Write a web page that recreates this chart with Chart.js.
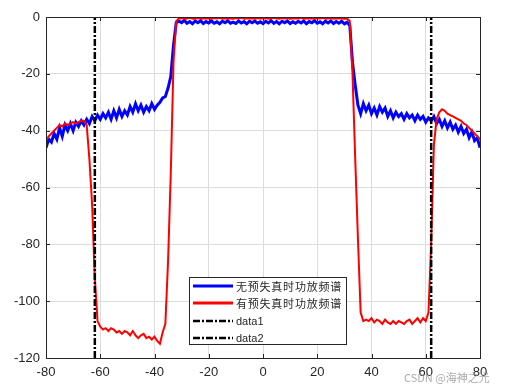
<!DOCTYPE html>
<html>
<head>
<meta charset="utf-8">
<script src="https://cdn.jsdelivr.net/npm/chart.js@4"></script>
<style>
  body { margin: 0; background: #fff; }
  #wrap { width: 514px; height: 390px; }
</style>
</head>
<body>
<div id="wrap"><canvas id="myChart" width="514" height="390"></canvas></div>
<script>
// frequency grid shared by both spectra (step 1)
const freq = [];
for (let f = -80; f <= 80; f++) freq.push(f);

// spectrum without predistortion (blue)
const noDpd = [
  -46, -43, -44, -41, -43, -39, -42, -38, -40, -37.5,
  -40, -37, -38.5, -36.5, -38, -36, -37.5, -35, -36.5, -34.5,
  -36, -34, -35.5, -33.5, -36, -33, -35.5, -32.5, -35, -33,
  -34.5, -31.5, -33.5, -30.5, -33, -31, -33.5, -31.5, -33, -30.5,
  -32.5, -31, -30, -28.5, -28, -25, -21, -10, -2, -1.5,
  -2, -1.2, -2.2, -1.6, -2.4, -1.4, -2, -1.3, -2.3, -1.6,
  -2.1, -1.4, -2.2, -1.7, -2.4, -1.5, -2, -1.3, -2.2, -1.8,
  -2.3, -1.4, -2.1, -1.6, -2.4, -1.5, -2, -1.4, -2.2, -1.7,
  -2.3, -1.5, -2.1, -1.3, -2.2, -1.6, -2.4, -1.5, -2, -1.4,
  -2.3, -1.7, -2.2, -1.5, -2.1, -1.4, -2.4, -1.6, -2, -1.3,
  -2.2, -1.7, -2.4, -1.5, -2.1, -1.4, -2.3, -1.6, -2.2, -1.5,
  -2.4, -1.8, -3, -16, -24, -31, -34, -30.5, -33, -31,
  -34, -32, -34.5, -31.5, -33.5, -32, -35, -33, -35.5, -33.5,
  -35, -34, -36, -34, -35.5, -34.5, -36.5, -34.5, -36, -35,
  -37, -35.5, -36.5, -35, -37.5, -36, -38.5, -36.5, -39, -37,
  -39.5, -38, -40.5, -38.5, -41, -39.5, -42.5, -40.5, -43.5, -42.5,
  -46
];

// spectrum with predistortion (red)
const withDpd = [
  -43.5, -42, -41, -40, -39, -38, -38.5, -37.5, -38, -37.5,
  -37, -37.5, -37, -36.5, -36.5, -38, -50, -66, -92, -107,
  -109, -110, -109.5, -110.5, -109.5, -110, -111, -110.5, -111.5, -110.5,
  -111, -112, -110.5, -112, -113, -112, -111.5, -113, -112.5, -113.5,
  -112.5, -114, -115, -111, -108, -86, -55, -16, -1.5, -0.5,
  -0.4, -0.6, -0.5, -0.3, -0.6, -0.5, -0.4, -0.6, -0.5, -0.4,
  -0.5, -0.6, -0.4, -0.5, -0.3, -0.6, -0.5, -0.4, -0.5, -0.6,
  -0.4, -0.5, -0.3, -0.6, -0.5, -0.4, -0.5, -0.6, -0.4, -0.5,
  -0.5, -0.4, -0.6, -0.5, -0.3, -0.5, -0.6, -0.4, -0.5, -0.4,
  -0.6, -0.5, -0.4, -0.5, -0.3, -0.6, -0.5, -0.4, -0.5, -0.6,
  -0.4, -0.5, -0.3, -0.6, -0.5, -0.4, -0.6, -0.5, -0.4, -0.5,
  -0.6, -0.5, -1.5, -20, -50, -78, -104, -107, -106.5, -107,
  -106, -107.5, -106.5, -107, -108, -106.5, -107.5, -108, -107, -108,
  -107, -107.5, -108, -107, -106.5, -108, -107, -106, -107.5, -106,
  -107, -104, -80, -45, -36, -33.5, -32.5, -33, -34, -34.5,
  -35, -35.5, -36, -36.5, -37.5, -38, -39, -40, -41, -42,
  -43
];

// vertical markers
const data1X = -62;
const data2X = 62;

const yTicks = [0, -20, -40, -60, -80, -100, -120];
const xTicks = [-80, -60, -40, -20, 0, 20, 40, 60, 80];

const legendLabels = ['无预失真时功放频谱', '有预失真时功放频谱', 'data1', 'data2'];
const legendColors = ['#0000ff', '#ff0000', '#000000', '#000000'];

const axisColor = '#262626';
const dashPattern = [7, 2, 2, 2];

const pts = (ys) => ys.map((y, i) => ({ x: freq[i], y: y }));

// MATLAB-like box, inward ticks, legend and watermark
const extras = {
  id: 'extras',
  afterDraw(chart) {
    const c = chart.ctx;
    const a = chart.chartArea;
    const sx = chart.scales.x, sy = chart.scales.y;
    c.save();
    c.strokeStyle = axisColor;
    c.lineWidth = 1;
    c.strokeRect(Math.round(a.left) + 0.5, Math.round(a.top) + 0.5,
                 Math.round(a.right - a.left), Math.round(a.bottom - a.top));
    c.beginPath();
    xTicks.forEach(v => {
      const px = Math.round(sx.getPixelForValue(v)) + 0.5;
      c.moveTo(px, a.bottom); c.lineTo(px, a.bottom - 4);
      c.moveTo(px, a.top); c.lineTo(px, a.top + 4);
    });
    yTicks.forEach(v => {
      const py = Math.round(sy.getPixelForValue(v)) + 0.5;
      c.moveTo(a.left, py); c.lineTo(a.left + 4, py);
      c.moveTo(a.right, py); c.lineTo(a.right - 4, py);
    });
    c.stroke();

    // legend
    const lx = 189.5, ly = 277.5, lw = 157, lh = 67;
    c.fillStyle = '#fff';
    c.fillRect(lx, ly, lw, lh);
    c.strokeStyle = axisColor;
    c.strokeRect(lx, ly, lw, lh);
    const rows = [286, 303, 321, 338];
    legendLabels.forEach((txt, i) => {
      c.beginPath();
      c.strokeStyle = legendColors[i];
      c.lineWidth = i < 2 ? 3 : 2.5;
      c.setLineDash(i < 2 ? [] : dashPattern);
      c.moveTo(193, rows[i]); c.lineTo(233, rows[i]);
      c.stroke();
      c.setLineDash([]);
      c.fillStyle = axisColor;
      c.textBaseline = 'middle';
      c.letterSpacing = '0px';
      if (i < 2) {
        c.font = '11px "Noto Sans CJK SC"';
        // stretch the CJK label to the width seen in the picture
        const w = c.measureText(txt).width;
        const sp = Math.max(0, (106 - w) / txt.length);
        c.letterSpacing = sp.toFixed(2) + 'px';
      } else {
        c.font = '11px "Liberation Sans"';
      }
      c.fillText(txt, 236, rows[i] + 0.5);
    });
    c.letterSpacing = '0px';

    // watermark
    c.font = '11px "Noto Sans CJK SC"';
    c.fillStyle = 'rgba(150,150,150,0.8)';
    c.textBaseline = 'middle';
    c.fillText('CSDN @海神之光', 404, 378);
    c.restore();
  }
};

const ctx = document.getElementById('myChart');

new Chart(ctx, {
  type: 'line',
  data: {
    datasets: [
      {
        label: legendLabels[0],
        data: pts(noDpd),
        borderColor: '#0000ff',
        borderWidth: 3,
        pointRadius: 0,
        tension: 0,
        order: 3
      },
      {
        label: legendLabels[1],
        data: pts(withDpd),
        borderColor: '#ff0000',
        borderWidth: 2,
        pointRadius: 0,
        tension: 0,
        order: 2
      },
      {
        label: legendLabels[2],
        data: [{ x: data1X, y: -120 }, { x: data1X, y: 0 }],
        borderColor: '#000',
        borderWidth: 2.5,
        borderDash: dashPattern,
        pointRadius: 0,
        order: 1
      },
      {
        label: legendLabels[3],
        data: [{ x: data2X, y: -120 }, { x: data2X, y: 0 }],
        borderColor: '#000',
        borderWidth: 2.5,
        borderDash: dashPattern,
        pointRadius: 0,
        order: 0
      }
    ]
  },
  options: {
    responsive: false,
    animation: false,
    layout: { padding: { top: 17, right: 34, left: 0, bottom: 0 } },
    plugins: {
      legend: { display: false },
      tooltip: { enabled: false }
    },
    scales: {
      x: {
        type: 'linear',
        min: -80,
        max: 80,
        afterFit: (s) => { s.height = 32; },
        afterBuildTicks: (s) => { s.ticks = xTicks.map(v => ({ value: v })); },
        ticks: {
          color: axisColor,
          padding: 7,
          maxRotation: 0,
          font: { family: 'Liberation Sans', size: 13 }
        },
        grid: { color: '#dcdcdc', drawTicks: false },
        border: { color: axisColor }
      },
      y: {
        min: -120,
        max: 0,
        afterFit: (s) => { s.width = 46; },
        afterBuildTicks: (s) => { s.ticks = yTicks.map(v => ({ value: v })); },
        ticks: {
          color: axisColor,
          padding: 6,
          font: { family: 'Liberation Sans', size: 13 }
        },
        grid: { color: '#dcdcdc', drawTicks: false },
        border: { color: axisColor }
      }
    }
  },
  plugins: [extras]
});
</script>
</body>
</html>
